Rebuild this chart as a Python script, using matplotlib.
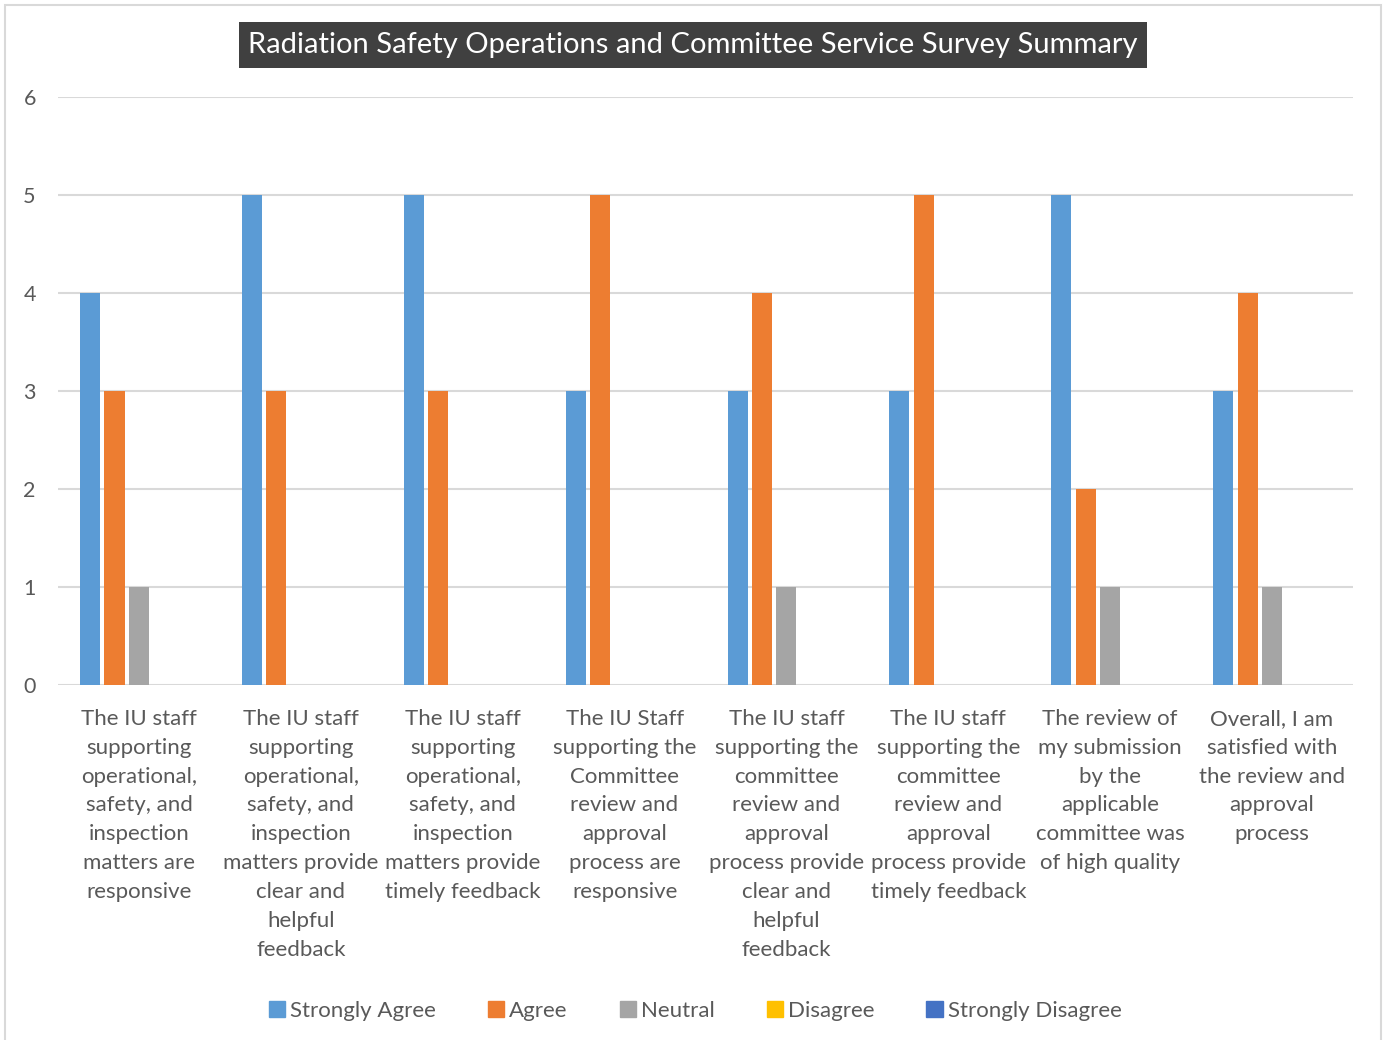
import numpy as np
import matplotlib.pyplot as plt
from matplotlib.patches import Rectangle

plt.rcParams['font.family'] = ['Lato', 'DejaVu Sans']

# Survey data
categories = [
	"The IU staff\nsupporting\noperational,\nsafety, and\ninspection\nmatters are\nresponsive",
	"The IU staff\nsupporting\noperational,\nsafety, and\ninspection\nmatters provide\nclear and\nhelpful\nfeedback",
	"The IU staff\nsupporting\noperational,\nsafety, and\ninspection\nmatters provide\ntimely feedback",
	"The IU Staff\nsupporting the\nCommittee\nreview and\napproval\nprocess are\nresponsive",
	"The IU staff\nsupporting the\ncommittee\nreview and\napproval\nprocess provide\nclear and\nhelpful\nfeedback",
	"The IU staff\nsupporting the\ncommittee\nreview and\napproval\nprocess provide\ntimely feedback",
	"The review of\nmy submission\nby the\napplicable\ncommittee was\nof high quality",
	"Overall, I am\nsatisfied with\nthe review and\napproval\nprocess",
]
series_names = ["Strongly Agree", "Agree", "Neutral", "Disagree", "Strongly Disagree"]
strongly_agree = [4, 5, 5, 3, 3, 3, 5, 3]
agree = [3, 3, 3, 5, 4, 5, 2, 4]
neutral = [1, 0, 0, 0, 1, 0, 1, 1]
disagree = [0, 0, 0, 0, 0, 0, 0, 0]
strongly_disagree = [0, 0, 0, 0, 0, 0, 0, 0]
colors = ["#5B9BD5", "#ED7D31", "#A5A5A5", "#FFC000", "#4472C4"]
yticks = [0, 1, 2, 3, 4, 5, 6]

W, H = 1384, 1040
fig = plt.figure(figsize=(W / 100, H / 100), dpi=100)

# light outer frame like the Excel chart area (bottom edge cropped off)
fig.patches.append(Rectangle((5 / W, -0.02), (W - 8) / W, 1.02 - 5 / H, transform=fig.transFigure,
	fill=False, edgecolor="#D9D9D9", linewidth=1.5))

ax = fig.add_axes([58 / W, 1 - 685 / H, (1353 - 58) / W, (685 - 97) / H])

all_series = [strongly_agree, agree, neutral, disagree, strongly_disagree]
x = np.arange(len(categories))
step = 0.151
width = 0.124
for j, vals in enumerate(all_series):
	ax.bar(x + (j - 2) * step, vals, width=width, color=colors[j], label=series_names[j], zorder=3)

ax.set_xlim(-0.5, len(categories) - 0.5)
ax.set_ylim(0, 6)
ax.set_yticks(yticks)
ax.yaxis.grid(True, color="#D9D9D9", linewidth=1.5, zorder=0)
for s in ax.spines.values():
	s.set_visible(False)
ax.tick_params(axis="y", length=0, pad=16, labelsize=15.5, labelcolor="#595959")
ax.tick_params(axis="x", length=0, pad=17)
ax.set_xticks(x)
ax.set_xticklabels(categories, fontsize=16, color="#595959", linespacing=1.56, va="top")

# title in dark box
fig.text(693 / W, 1 - 45 / H, "Radiation Safety Operations and Committee Service Survey Summary",
	ha="center", va="center", fontsize=21, color="white",
	bbox=dict(boxstyle="square,pad=0.33", facecolor="#404040", edgecolor="none"))

handles = [Rectangle((0, 0), 1, 1, color=c) for c in colors]
fig.legend(handles, series_names, loc="center", bbox_to_anchor=(695 / W, 1 - 1011 / H), ncol=5,
	frameon=False, fontsize=16, handlelength=0.75, handleheight=0.75, handletextpad=0.2,
	columnspacing=2.35, labelcolor="#595959")

fig.savefig("out.png", dpi=100)
